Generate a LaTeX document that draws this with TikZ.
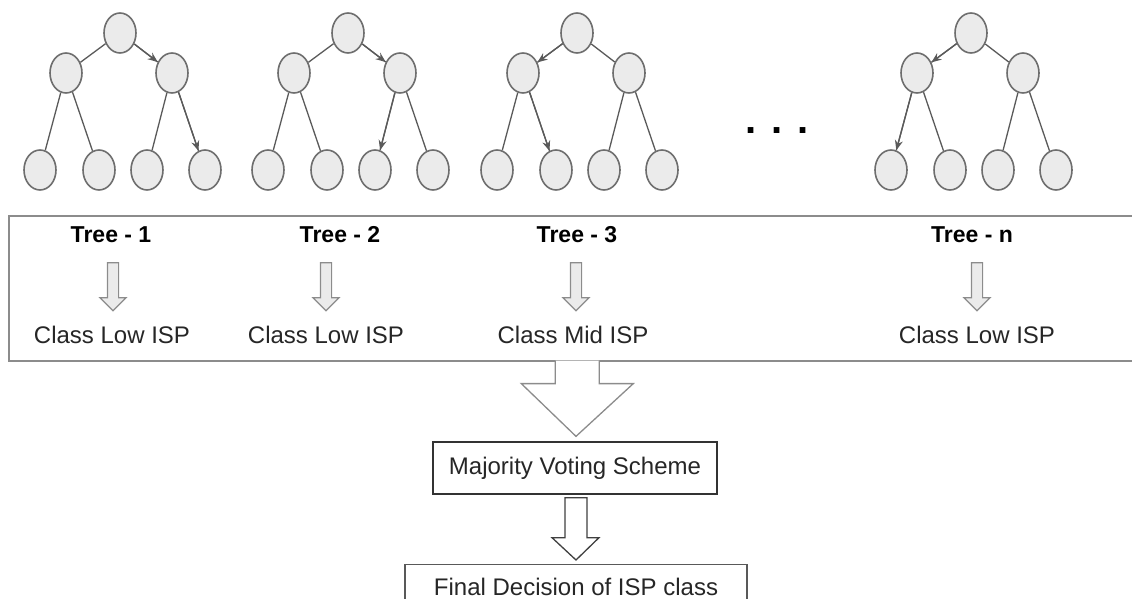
\documentclass[tikz,border=0pt]{standalone}
\usepackage{fontspec}
\setmainfont{Liberation Sans}
\usetikzlibrary{positioning, calc, shapes, arrows.meta}

\definecolor{nodefill}{HTML}{EBEBEB}
\definecolor{nodeline}{HTML}{6E6E6E}
\definecolor{edgeline}{HTML}{5A5A5A}
\definecolor{panelline}{HTML}{8C8C8C}
\definecolor{txt}{HTML}{262626}

\begin{document}
\begin{tikzpicture}[x=1pt, y=-1pt, >={Stealth[length=10pt, width=8pt]},
	vtx/.style={ellipse, draw=nodeline, fill=nodefill, line width=1.6pt, minimum width=32pt, minimum height=40pt, inner sep=0pt},
	br/.style={draw=edgeline, line width=1.3pt},
	treelbl/.style={font=\bfseries\fontsize{23}{27}\selectfont, text=black},
	classlbl/.style={font=\fontsize{24}{28}\selectfont, text=txt},
	downarr/.style={single arrow, shape border rotate=270, draw=panelline, fill=nodefill, line width=1.2pt, minimum height=48pt, inner sep=5pt, single arrow head extend=7.5pt, single arrow tip angle=90},
	panel/.style={draw=panelline, line width=1.6pt, minimum width=1137pt, minimum height=145pt, inner sep=0pt},
	stepbox/.style={draw=black!80, line width=1.3pt, font=\fontsize{24}{28}\selectfont, text=txt, inner sep=0pt},
	bigarr/.style={draw=panelline, fill=white, line width=1.3pt, line join=miter}
	]
	\useasboundingbox (0,0) rectangle (1132,599);
	\clip (0,0) rectangle (1132,599);

	% trees: root, two inner nodes, four leaves
	\foreach \t/\x/\p/\q in {1/120/b/f, 2/348/b/e, 3/577/a/d, n/971/a/c} {
		\node[vtx] (r\t) at (\x,33) {};
		\node[vtx] (a\t) at (\x-54,73) {};
		\node[vtx] (b\t) at (\x+52,73) {};
		\node[vtx] (c\t) at (\x-80,170) {};
		\node[vtx] (d\t) at (\x-21,170) {};
		\node[vtx] (e\t) at (\x+27,170) {};
		\node[vtx] (f\t) at (\x+85,170) {};
		\draw[br] (r\t) -- (a\t) (r\t) -- (b\t) (a\t) -- (c\t) (a\t) -- (d\t) (b\t) -- (e\t) (b\t) -- (f\t);
		% path taken by the sample
		\draw[br, ->] (r\t) -- (\p\t);
		\draw[br, ->] (\p\t) -- (\q\t);
	}
	\node[font=\bfseries\fontsize{40}{40}\selectfont] (dots) at (777,131) {. . .};

	% results of each tree
	\node[panel, anchor=north west] (panel) at (8,215) {};
	\node[treelbl] (t1) at (111,235) {Tree - 1};
	\node[treelbl] (t2) at (340,235) {Tree - 2};
	\node[treelbl] (t3) at (577,235) {Tree - 3};
	\node[treelbl] (tn) at (972,235) {Tree - n};
	\node[downarr] (s1) at (113,284) {};
	\node[downarr] (s2) at (326,284) {};
	\node[downarr] (s3) at (576,284) {};
	\node[downarr] (sn) at (977,284) {};
	\node[classlbl] (k1) at (112,335) {Class Low ISP};
	\node[classlbl] (k2) at (326,335) {Class Low ISP};
	\node[classlbl] (k3) at (573,335) {Class Mid ISP};
	\node[classlbl] (kn) at (977,335) {Class Low ISP};

	% voting
	\node[stepbox, minimum width=284pt, minimum height=52pt] (vote) at (575,468) {Majority Voting Scheme};
	\node[stepbox, draw=black!65, minimum width=342pt, minimum height=44pt, anchor=north] (final) at (576,564) {Final Decision of ISP class};

	\draw[bigarr] ($(panel.south)+(-22,-1)$) -- ++(0,23) -- ++(-34,0) -- ($(vote.north)+(1,-5)$)
		-- ($(panel.south)+(56,22)$) -- ($(panel.south)+(22,22)$) -- ($(panel.south)+(22,-1)$);
	\draw[bigarr, draw=black!75] ($(vote.south)+(-10,3)$) -- ++(0,40) -- ++(-13,0) -- ($(final.north)+(0,-4)$)
		-- ($(vote.south)+(24,43)$) -- ($(vote.south)+(12,43)$) -- ($(vote.south)+(12,3)$) -- cycle;
\end{tikzpicture}
\end{document}
